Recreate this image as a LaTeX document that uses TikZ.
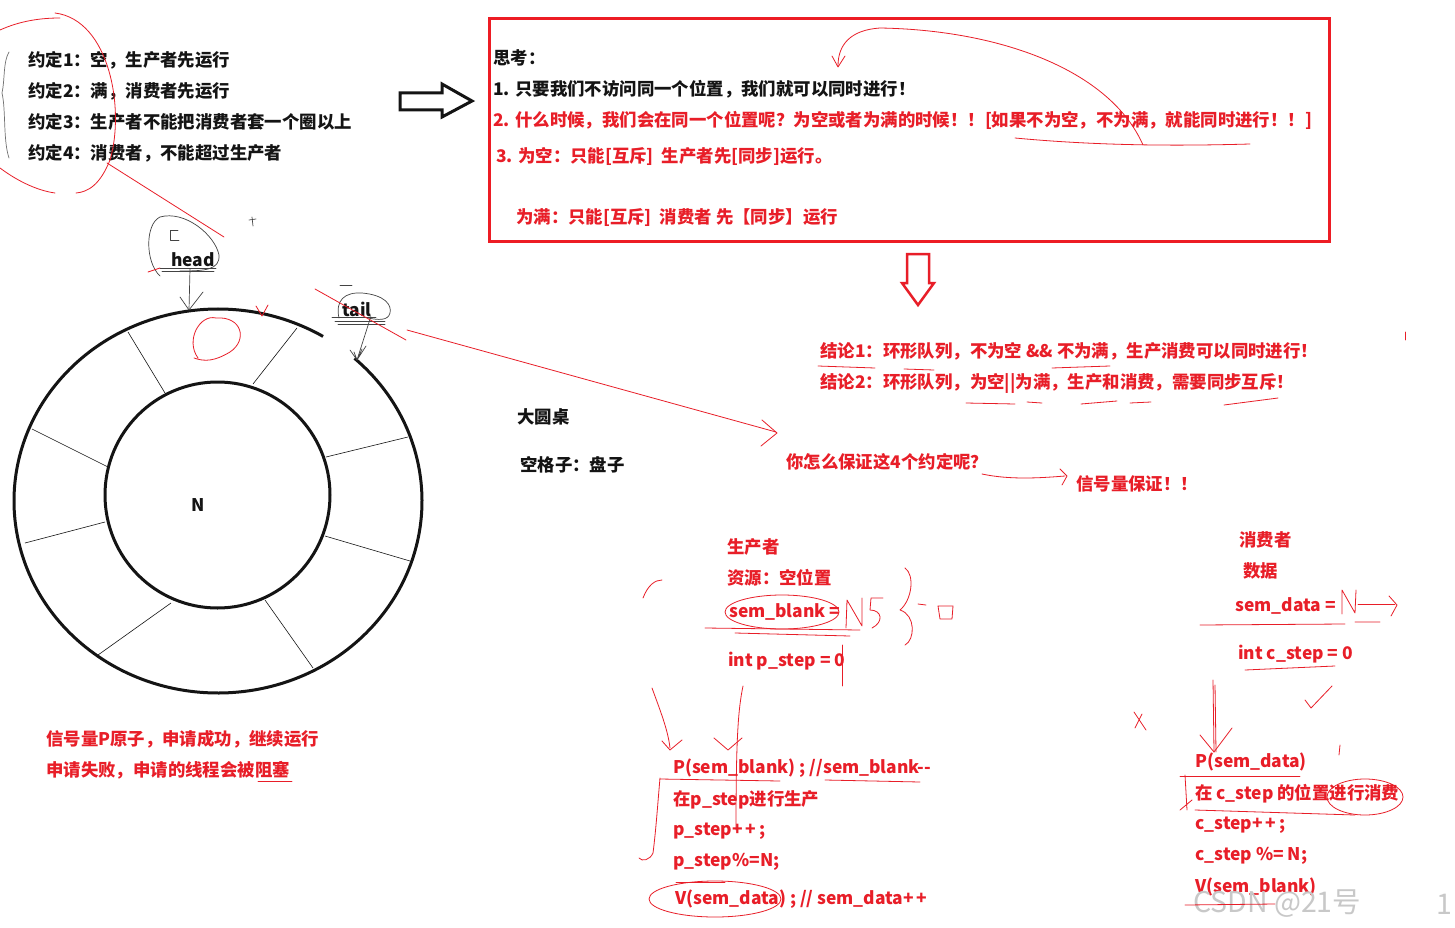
\documentclass[tikz,border=0pt]{standalone}
\usepackage{fontspec}
\setmainfont{Noto Sans CJK SC}
\usetikzlibrary{calc}
\definecolor{pred}{RGB}{232,30,40}
\definecolor{boxred}{RGB}{237,28,36}
\definecolor{ink}{RGB}{20,20,20}
\definecolor{wm}{RGB}{200,200,200}
\begin{document}
\begin{tikzpicture}[x=1pt,y=-1pt,
  txt/.style={anchor=west,inner sep=0pt,text=ink,font=\fontsize{17.4}{20}\selectfont\bfseries},
  rtxt/.style={txt,text=pred},
  ring/.style={line width=3pt,ink},
  spoke/.style={line width=0.6pt,ink},
  pen/.style={pred,line width=0.8pt,line cap=round,line join=round},
  bpen/.style={ink!80,line width=0.7pt,line cap=round,line join=round},
  hollow/.style={line width=3pt,line join=miter}]
\useasboundingbox (0,0) rectangle (1455,928);
\fill[white] (0,0) rectangle (1455,928);

% ---- conventions ----
\node[txt] (c1) at (28,60) {约定1：空，生产者先运行};
\node[txt] (c2) at (28,91) {约定2：满，消费者先运行};
\node[txt] (c3) at (28,122) {约定3：生产者不能把消费者套一个圈以上};
\node[txt] (c4) at (28,153) {约定4：消费者，不能超过生产者};

% hollow right arrow
\draw[hollow,ink] (400,93)--(442,93)--(442,84)--(472,101)--(442,117)--(442,110)--(400,110)--cycle;

% ---- red box ----
\draw[boxred,line width=3pt] (489,19) rectangle (1329,241);
\node[txt] (t0) at (493,58) {思考：};
\node[txt] (t1) at (493,89) {1. 只要我们不访问同一个位置，我们就可以同时进行！};
\node[rtxt] (t2) at (493,120) {2. 什么时候，我们会在同一个位置呢？为空或者为满的时候！！[如果不为空，不为满，就能同时进行！！]};
\node[rtxt] (t3) at (496,156) {3. 为空：只能[互斥]\ \ 生产者先[同步]运行。};
\node[rtxt] (t4) at (516,218) {为满：只能[互斥]\ \ 消费者 先【同步】运行};

% hollow down arrow
\draw[hollow,pred,line width=2.5pt] (907,254)--(929,254)--(929,283)--(934,283)--(918,305)--(902,283)--(907,283)--cycle;

% ---- conclusions ----
\node[rtxt] (k1) at (820,351) {结论1：环形队列，不为空 \&\& 不为满，生产消费可以同时进行！};
\node[rtxt] (k2) at (820,383) {结论2：环形队列，为空||为满，生产和消费，需要同步互斥！};

\node[txt] (d1) at (517,417) {大圆桌};
\node[txt] (d2) at (520,465) {空格子：盘子};

\node[rtxt] (q) at (786,462) {你怎么保证这4个约定呢？};
\node[rtxt] (a) at (1076,484) {信号量保证！！};

% ---- ring ----
\draw[ring] (217.5,495) ellipse [x radius=112.5, y radius=113];
\draw[ring] ($(218,501)+(-48:204 and 192)$) arc [start angle=-48,end angle=301,x radius=204,y radius=192];
\draw[spoke] (128,332)--(165,393);
\draw[spoke] (297,328)--(253,384);
\draw[spoke] (32,429)--(108,467);
\draw[spoke] (25,543)--(105,522);
\draw[spoke] (408,437)--(326,457);
\draw[spoke] (410,561)--(325,536);
\draw[spoke] (98,655)--(171,603);
\draw[spoke] (313,668)--(265,600);
\node[txt] (N) at (191,505) {N};

% head / tail
\node[txt] (head) at (171,260) {head};
\node[txt] (tail) at (342,309) {tail};
\coordinate (hp) at (189,310);
\coordinate (tp) at (357,360);
\draw[bpen] (190,269) -- (hp);
\draw[bpen] (180,297)--(hp)--(203,292);
\draw[bpen] (160,268)--(216,268) (162,271)--(214,271);
\draw[bpen] (160,276) .. controls (145,262) and (145,224) .. (160,217) .. controls (185,210) and (215,235) .. (219,255) .. controls (220,270) and (205,271) .. (180,271);
\draw[bpen] (178,230)--(170,230)--(170,240)--(179,240);
\draw[bpen] (252,217)--(253,226) (249,220)--(256,219);
\draw[bpen] (tail.south) ++(14,0) -- (tp);
\draw[bpen] (350,350)--(tp)--(366,346) (354,352)--(tp)--(362,349);
\draw[bpen] (332,317)--(376,317) (335,321)--(385,321) (338,324)--(385,324);
\draw[bpen] (339,318) .. controls (335,300) and (345,292) .. (362,293) .. controls (385,295) and (392,305) .. (390,313) .. controls (388,321) and (378,320) .. (368,318);
\draw[bpen] (340,285)--(352,285);

% ---- producer ----
\node[rtxt] (p0) at (727,547) {生产者};
\node[rtxt] (p1) at (727,578) {资源：空位置};
\node[rtxt] (p2) at (729,612) {sem\_blank =};
\node[rtxt] (p3) at (728,661) {int p\_step = 0};
\node[rtxt] (p4) at (673,768) {P(sem\_blank) ; //sem\_blank-{}-};
\node[rtxt] (p5) at (673,800) {在p\_step进行生产};
\node[rtxt] (p6) at (673,831) {p\_step+\,+\,;};
\node[rtxt] (p7) at (673,862) {p\_step\%=N;};
\node[rtxt] (p8) at (675,899) {V(sem\_data) ; // sem\_data+\,+};

% ---- consumer ----
\node[rtxt] (s0) at (1239,540) {消费者};
\node[rtxt] (s1) at (1243,571) {数据};
\node[rtxt] (s2) at (1235,606) {sem\_data =};
\node[rtxt] (s3) at (1238,654) {int c\_step = 0};
\node[rtxt] (s4) at (1195,762) {P(sem\_data)};
\node[rtxt] (s5) at (1195,794) {在 c\_step 的位置进行消费};
\node[rtxt] (s6) at (1195,825) {c\_step+\,+\,;};
\node[rtxt] (s7) at (1195,856) {c\_step \%= N;};
\node[rtxt] (s8) at (1195,887) {V(sem\_blank)};

% ---- semaphore note ----
\node[rtxt] (n1) at (46,739) {信号量P原子，申请成功，继续运行};
\node[rtxt] (n2) at (46,770) {申请失败，申请的线程会被阻塞};

% ---- watermark ----
\node[anchor=west,inner sep=0pt,text=wm,font=\fontsize{28.5}{30}\selectfont] (wm1) at (1193,904) {CSDN @21号};
\node[anchor=west,inner sep=0pt,text=wm,font=\fontsize{28.5}{30}\selectfont] (wm2) at (1436,904) {1};

% ---- hand scribbles (red) ----
\draw[pen] (0,30) .. controls (20,21) and (40,18) .. (60,18);
\draw[pen] (55,13) .. controls (110,20) and (125,110) .. (110,160) .. controls (100,185) and (88,192) .. (76,193);
\draw[pen] (0,168) .. controls (20,183) and (40,191) .. (55,193);
\draw[pen] (107,163) -- (224,237);
\draw[bpen,ink!60] (9,52) .. controls (3,62) and (5,80) .. (2,93) .. controls (6,110) and (3,140) .. (9,158);
\draw[pen] (198,358) .. controls (185,340) and (200,314) .. (216,318) .. controls (242,316) and (248,340) .. (230,352) .. controls (215,361) and (205,362) .. (194,358);
\draw[pen] (256,306)--(262,316)--(268,305);
\draw[pen] (148,272)--(160,268);
\draw[pen] (315,289)--(406,340);
\draw[pen] (407,330)--(776,432);
\draw[pen] (762,420)--(777,433)--(761,446);
\draw[pen] (1143,145) .. controls (1110,70) and (1000,30) .. (880,28) .. controls (850,30) and (838,45) .. (838,66);
\draw[pen] (832,56)--(838,67)--(845,56);
\draw[pen] (1015,138) .. controls (1100,146) and (1180,146) .. (1250,144);
% conclusion underlines
\draw[pen] (818,366)--(875,368) (904,369)--(934,370) (1052,368)--(1110,366);
\draw[pen] (966,403)--(1015,404) (1027,402)--(1042,403) (1081,404)--(1117,401) (1130,403)--(1151,402) (1224,405)--(1278,398);
\draw[pen] (982,474) .. controls (1010,480) and (1040,478) .. (1065,476);
\draw[pen] (1060,469)--(1067,476)--(1062,485);
% producer scribbles
\draw[pen] (782,612) ellipse [x radius=57, y radius=17];
\draw[pen] (705,628)--(860,630) (735,633)--(850,636);
\draw[pen] (846,628)--(847,600)--(862,626)--(862,598);
\draw[pen] (883,598)--(871,598)--(870,610) .. controls (882,610) and (884,622) .. (872,628);
\draw[pen] (905,568) .. controls (915,575) and (912,600) .. (900,610) .. controls (916,615) and (915,640) .. (905,645);
\draw[pen] (918,604)--(926,605);
\draw[pen] (938,606)--(953,606)--(952,619)--(940,619)--cycle;
\draw[pen] (842,645)--(842,686);
\draw[pen] (652,688) .. controls (660,710) and (668,730) .. (670,748);
\draw[pen] (662,741)--(670,750)--(682,740);
\draw[pen] (743,686) .. controls (738,710) and (736,740) .. (736,830);
\draw[pen] (714,738)--(728,750)--(742,738);
\draw[pen] (660,778) .. controls (658,800) and (656,830) .. (653,853) .. controls (650,860) and (642,862) .. (639,858);
\draw[pen] (660,779)--(780,781) (825,780)--(920,782);
\draw[pen] (715,899) ellipse [x radius=66, y radius=18];
\draw[pen] (676,882)--(725,882);
\draw[pen] (643,598) .. controls (648,585) and (655,580) .. (662,580);
% consumer scribbles
\draw[pen] (1200,625)--(1345,624) (1355,622)--(1380,622);
\draw[pen] (1342,614)--(1342,590)--(1355,613)--(1356,590);
\draw[pen] (1358,604)--(1395,604);
\draw[pen] (1389,596)--(1397,605)--(1391,616);
\draw[pen] (1245,670)--(1335,666);
\draw[pen] (1305,700)--(1311,708)--(1332,686);
\draw[pen] (1134,712)--(1146,730) (1142,714)--(1135,728);
\draw[pen] (1213,680)--(1214,752) (1215,685)--(1216,752);
\draw[pen] (1200,735)--(1214,752)--(1232,728);
\draw[pen] (1180,776)--(1300,776);
\draw[pen] (1365,797) ellipse [x radius=38, y radius=18];
\draw[pen] (1195,810)--(1355,815);
\draw[pen] (1185,775)--(1187,810) (1180,810)--(1192,800);
\draw[pen] (1185,905)--(1275,904);
\draw[pen] (1340,745)--(1339,755);
\draw[pen] (1405,332)--(1405,340);
\draw[pen] (258,781)--(292,781);
\end{tikzpicture}
\end{document}
